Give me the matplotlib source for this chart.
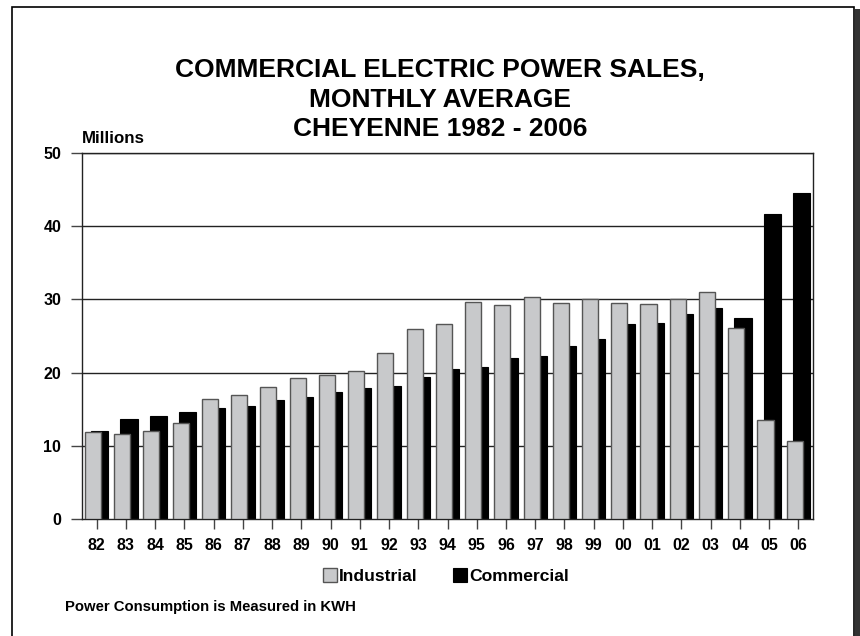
import matplotlib as mpl
mpl.use('Agg')
import matplotlib.pyplot as plt
import numpy as np
from matplotlib.patches import Rectangle

years = ['82', '83', '84', '85', '86', '87', '88', '89', '90', '91', '92', '93', '94',
         '95', '96', '97', '98', '99', '00', '01', '02', '03', '04', '05', '06']
industrial = [11.9, 11.6, 12.0, 13.1, 16.35, 16.9, 18.1, 19.3, 19.7, 20.2, 22.7, 25.9, 26.7,
              29.6, 29.3, 30.3, 29.5, 30.0, 29.5, 29.4, 30.1, 31.0, 26.1, 13.5, 10.7]
commercial = [12.05, 13.6, 14.1, 14.6, 15.1, 15.4, 16.2, 16.7, 17.3, 17.85, 18.2, 19.4, 20.5,
              20.8, 22.0, 22.3, 23.7, 24.6, 26.7, 26.8, 28.0, 28.8, 27.4, 41.6, 44.6]
yticks = [0, 10, 20, 30, 40, 50]

plt.rcParams['font.family'] = ['Liberation Sans', 'DejaVu Sans']
plt.rcParams['font.weight'] = 'bold'

fig = plt.figure(figsize=(8.6, 6.36), dpi=100)
ax = fig.add_axes([82 / 860, 1 - 519 / 636, (813 - 82) / 860, (519 - 153) / 636])

x = np.arange(len(years))
ax.bar(x + 0.105, commercial, width=0.59, color='black', edgecolor='black',
       linewidth=0.8, zorder=2, label='Commercial')
ax.bar(x - 0.125, industrial, width=0.55, color='#c8c9cb', edgecolor='#555555',
       linewidth=1.0, zorder=3, label='Industrial')

ax.set_xlim(-0.5, len(years) - 0.5)
ax.set_ylim(0, 50)
ax.set_yticks(yticks)
ax.set_yticklabels([str(v) for v in yticks], fontsize=11.5, fontweight='bold')
ax.set_xticks(x)
ax.set_xticklabels(years, fontsize=11.5, fontweight='bold')
ax.tick_params(axis='y', length=8, width=1, color='#444444', pad=7)
ax.tick_params(axis='x', length=7, width=1, color='#444444', pad=7)
for v in yticks[1:]:
    ax.axhline(v, color='#222222', linewidth=1.0, zorder=1)
for s in ax.spines.values():
    s.set_color('#222222')
    s.set_linewidth(1.0)

# legend: Industrial first
h, l = ax.get_legend_handles_labels()
fig.legend(h[::-1], l[::-1], loc='center', bbox_to_anchor=(446 / 860, 1 - 576 / 636),
           ncol=2, frameon=False, handlelength=0.8, handleheight=0.8,
           handletextpad=0.1, columnspacing=2.05, prop={'weight': 'bold', 'size': 12.6})

fig.text(440 / 860, 1 - 70 / 636, 'COMMERCIAL ELECTRIC POWER SALES,', ha='center', va='center',
         fontsize=19, fontweight='bold')
fig.text(440 / 860, 1 - 100 / 636, 'MONTHLY AVERAGE', ha='center', va='center',
         fontsize=19, fontweight='bold')
fig.text(440 / 860, 1 - 129 / 636, 'CHEYENNE 1982 - 2006', ha='center', va='center',
         fontsize=19, fontweight='bold')
fig.text(82 / 860, 1 - 138 / 636, 'Millions', ha='left', va='center', fontsize=12.2, fontweight='bold')
fig.text(65 / 860, 1 - 607 / 636, 'Power Consumption is Measured in KWH', ha='left', va='center',
         fontsize=10.7, fontweight='bold')

# outer frame with shadow on the right
fig.patches.append(Rectangle((855 / 860, -0.01), 5 / 860, 1 - 9 / 636 + 0.01,
                             transform=fig.transFigure, facecolor='#333333', edgecolor='none'))
fig.patches.append(Rectangle((12 / 860, -0.01), (854 - 12) / 860, 1 - 7 / 636 + 0.01,
                             transform=fig.transFigure, facecolor='none', edgecolor='black',
                             linewidth=1.2))

fig.savefig('out.png', dpi=100)
